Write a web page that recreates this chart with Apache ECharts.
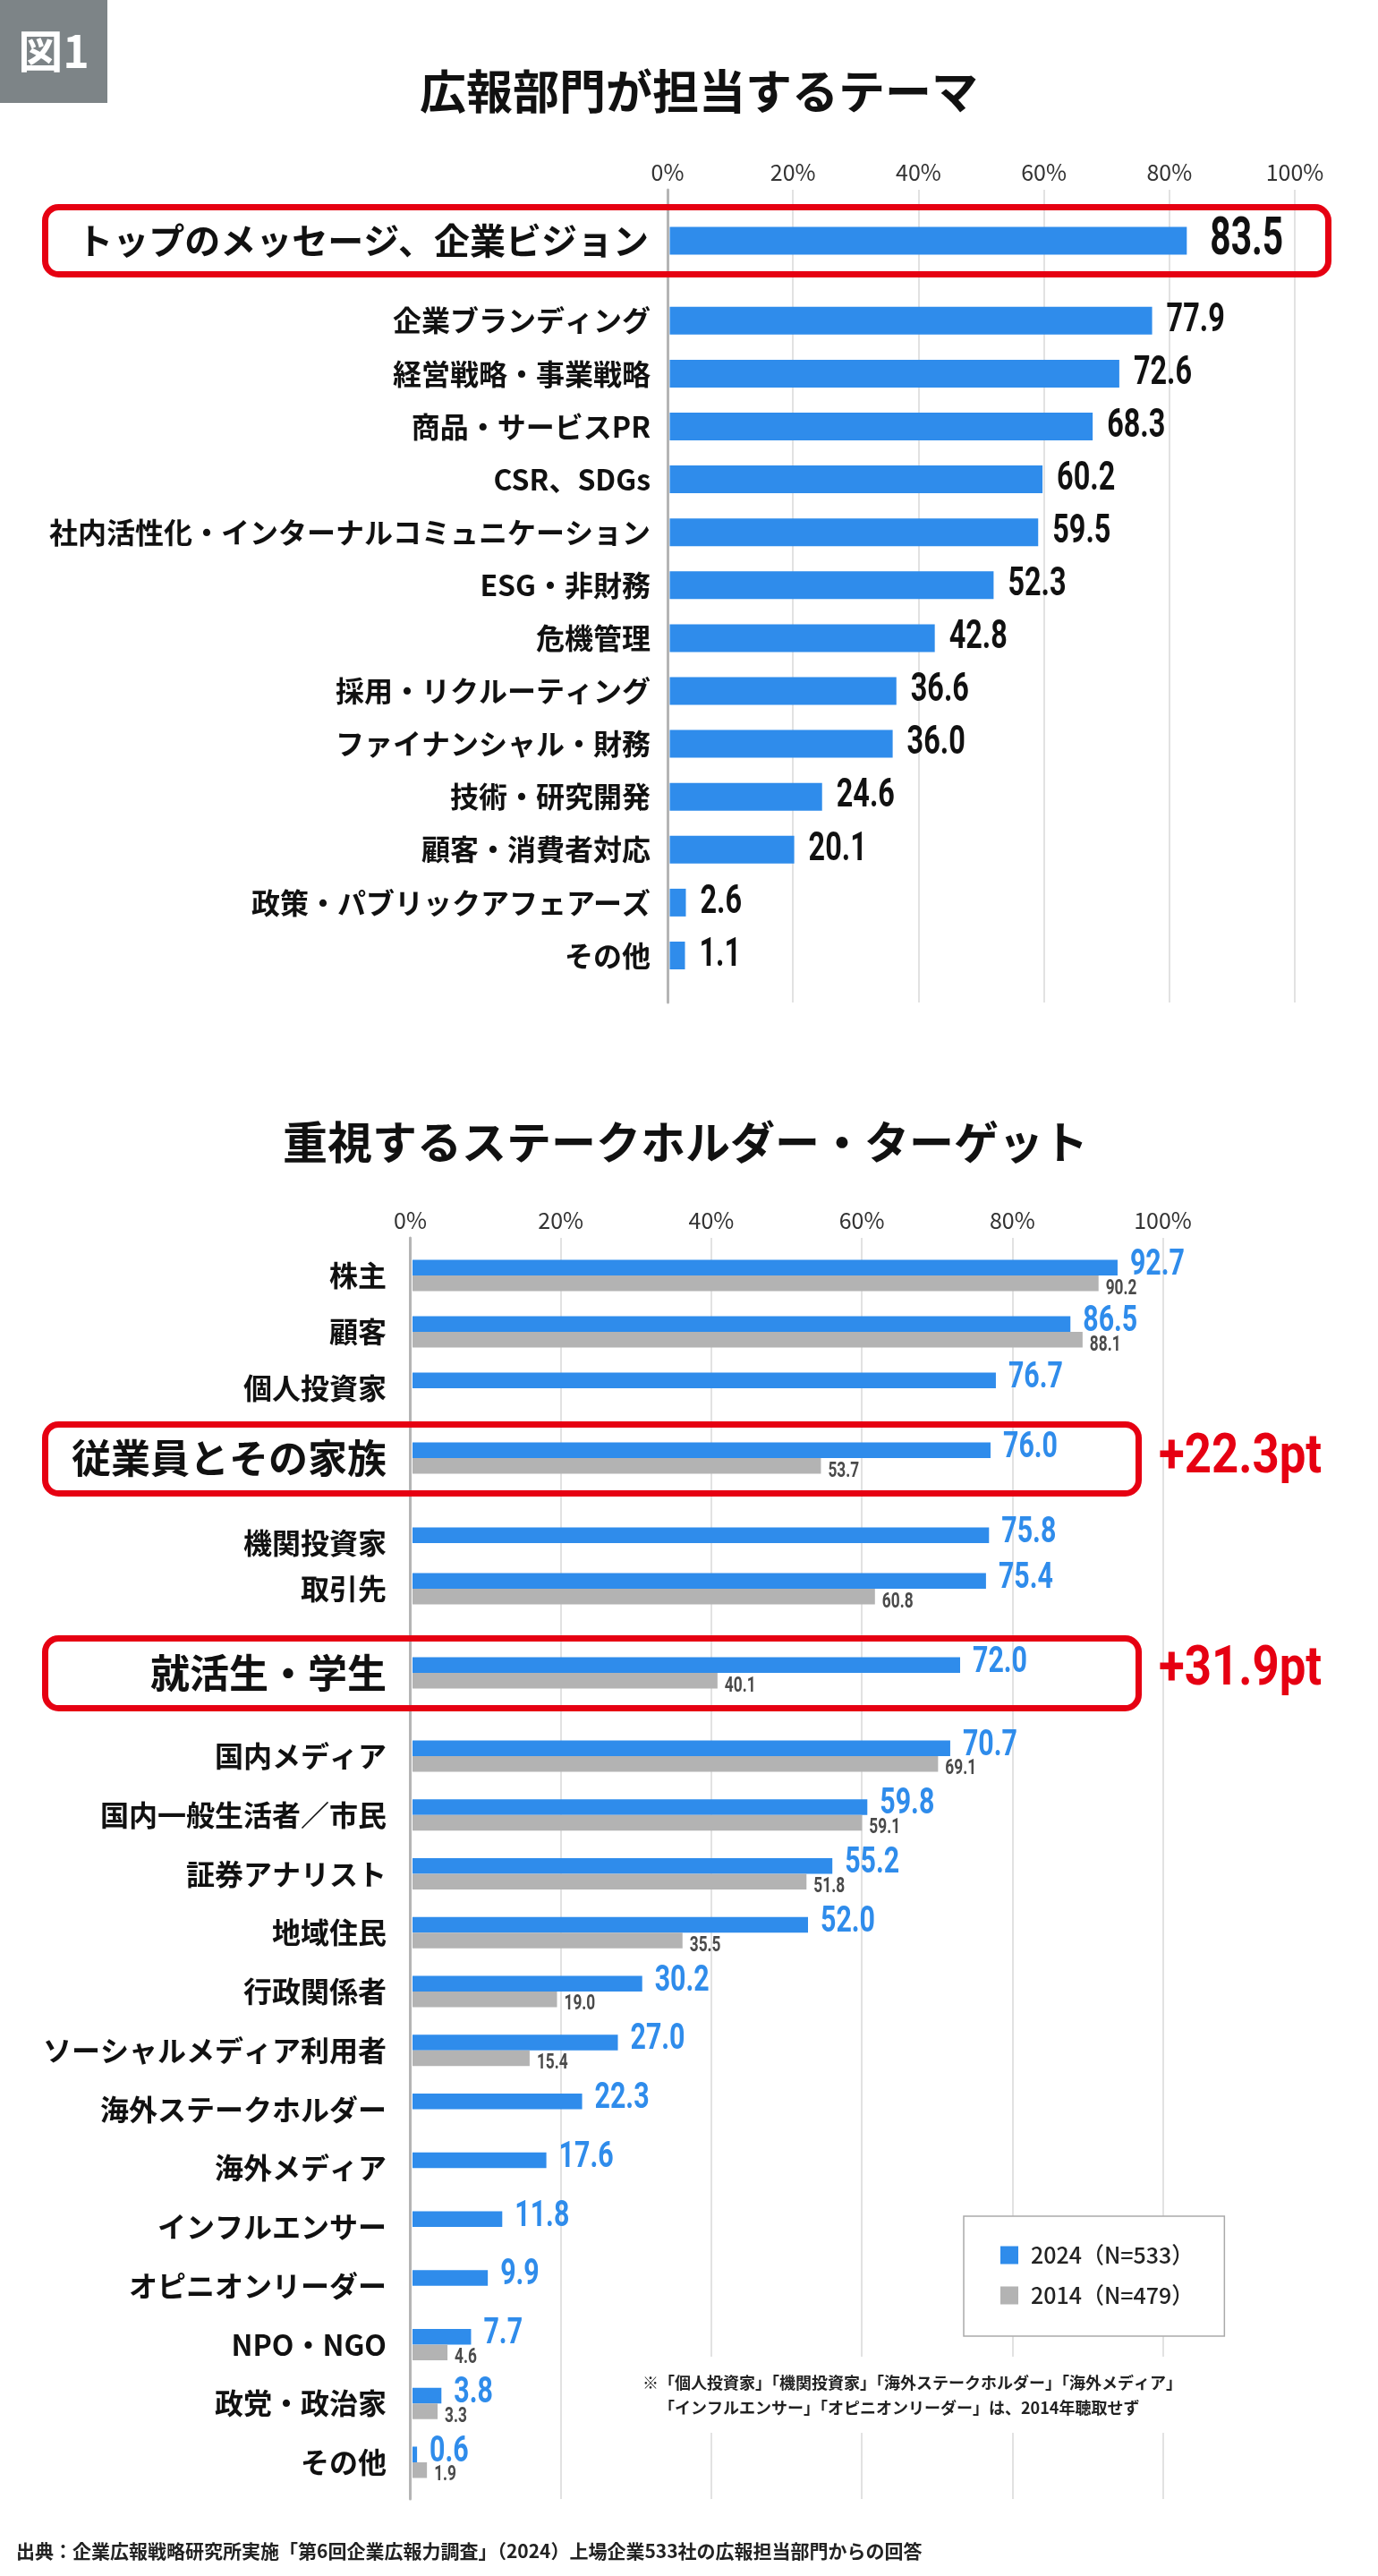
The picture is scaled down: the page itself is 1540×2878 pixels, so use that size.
<!DOCTYPE html>
<html>
<head>
<meta charset="utf-8">
<script src="https://cdn.jsdelivr.net/npm/echarts@6/dist/echarts.min.js"></script>
<style>
html,body{margin:0;padding:0;background:#fff;}
#c{width:1540px;height:2878px;}
</style>
</head>
<body>
<div id="c"></div>
<script>
// ---------- DATA ----------
const themeTitle = '広報部門が担当するテーマ';
const themes = ['トップのメッセージ、企業ビジョン','企業ブランディング','経営戦略・事業戦略','商品・サービスPR','CSR、SDGs','社内活性化・インターナルコミュニケーション','ESG・非財務','危機管理','採用・リクルーティング','ファイナンシャル・財務','技術・研究開発','顧客・消費者対応','政策・パブリックアフェアーズ','その他'];
const themeValues = [83.5,77.9,72.6,68.3,60.2,59.5,52.3,42.8,36.6,36.0,24.6,20.1,2.6,1.1];

const stakeTitle = '重視するステークホルダー・ターゲット';
const stakeholders = ['株主','顧客','個人投資家','従業員とその家族','機関投資家','取引先','就活生・学生','国内メディア','国内一般生活者／市民','証券アナリスト','地域住民','行政関係者','ソーシャルメディア利用者','海外ステークホルダー','海外メディア','インフルエンサー','オピニオンリーダー','NPO・NGO','政党・政治家','その他'];
const values2024 = [92.7,86.5,76.7,76.0,75.8,75.4,72.0,70.7,59.8,55.2,52.0,30.2,27.0,22.3,17.6,11.8,9.9,7.7,3.8,0.6];
const values2014 = [90.2,88.1,null,53.7,null,60.8,40.1,69.1,59.1,51.8,35.5,19.0,15.4,null,null,null,null,4.6,3.3,1.9];
const seriesNames = ['2024（N=533）','2014（N=479）'];

const tickLabels = ['0%','20%','40%','60%','80%','100%'];
const highlighted = ['トップのメッセージ、企業ビジョン','従業員とその家族','就活生・学生'];

const figLabel = '図1';
const noteLine1 = '※「個人投資家」「機関投資家」「海外ステークホルダー」「海外メディア」';
const noteLine2 = '「インフルエンサー」「オピニオンリーダー」は、2014年聴取せず';
const sourceText = '出典：企業広報戦略研究所実施「第6回企業広報力調査」（2024）上場企業533社の広報担当部門からの回答';

// row groups (index ranges)
const themeGroups = [[0,1],[1,14]];
const stakeGroups = [[0,3],[3,4],[4,6],[6,7],[7,20]];

// ---------- STYLE / LAYOUT ----------
const BLUE = '#2f8ceb';
const GREY = '#b3b3b3';
const RED = '#e60012';
const CJK = "'Noto Sans CJK JP','Noto Sans',sans-serif";
const DIGITS = "Roboto,'Noto Sans',sans-serif";

const themeGridRects = [{top:240,height:58},{top:328.75,height:768.3}];
const stakeGridRects = [{top:1393.5,height:189},{top:1597.5,height:63},{top:1698.5,height:102},{top:1837.5,height:63},{top:1929.1,height:854.75}];

const grids = [], xAxes = [], yAxes = [], series = [];

function addBackground(left, width, top, height) {
  const gi = grids.length;
  grids.push({left:left, width:width, top:top, height:height, containLabel:false});
  xAxes.push({gridIndex:gi, type:'value', min:0, max:100, interval:20, position:'top',
    axisLine:{show:false}, axisTick:{show:false},
    splitLine:{show:true, lineStyle:{color:'#d9d9d9', width:1.5}},
    axisLabel:{margin:7, fontSize:25, color:'#333', fontFamily:CJK, formatter:v => tickLabels[Math.round(v/20)]}});
  yAxes.push({gridIndex:gi, type:'value', min:0, max:1,
    axisLabel:{show:false}, axisTick:{show:false}, splitLine:{show:false},
    axisLine:{show:true, lineStyle:{color:'#b5b5b5', width:3}}});
}
// background axes (gridlines + tick labels)
addBackground(746, 701, 212, 908);
addBackground(458.5, 841, 1383, 1409);

function addCategoryGrid(rect, left, width, cats, labelSize, labelMargin) {
  const gi = grids.length;
  grids.push({left:left, width:width, top:rect.top, height:rect.height, containLabel:false});
  xAxes.push({gridIndex:gi, type:'value', min:0, max:100, show:false});
  yAxes.push({gridIndex:gi, type:'category', data:cats, inverse:true,
    axisLine:{show:false}, axisTick:{show:false}, splitLine:{show:false},
    axisLabel:{interval:0, margin:labelMargin, fontSize:labelSize, fontWeight:'bold', color:'#111', fontFamily:CJK}});
  return gi;
}

// condensed value labels, positioned through the grid's own axes
function addLabels(gi, vals, o) {
  const data = [];
  vals.forEach((v, i) => { if (v != null) data.push([v, i]); });
  series.push({type:'custom', xAxisIndex:gi, yAxisIndex:gi, silent:true, z:5, clip:false,
    encode:{x:0, y:1}, data:data,
    renderItem:(params, api) => {
      const v = api.value(0), i = api.value(1);
      const end = api.coord([v, i]);
      const start = api.coord([0, i]);
      const x = Math.max(end[0], start[0] + (o.minLen || 0)) + o.dx;
      return {type:'text', x:x, y:end[1] + o.dy, scaleX:o.sx,
        style:{text:v.toFixed(1), fill:o.color, fontSize:o.size, fontWeight:'bold',
          fontFamily:DIGITS, textAlign:'left', textVerticalAlign:'middle'}};
    }});
}

// ---- top chart ----
themeGroups.forEach((g, k) => {
  const cats = themes.slice(g[0], g[1]);
  const vals = themeValues.slice(g[0], g[1]);
  const hl = highlighted.includes(cats[0]);
  const gi = addCategoryGrid(themeGridRects[k], 748.5, 692, cats, hl ? 40 : 32, hl ? 23.5 : 21.5);
  series.push({type:'bar', name:'themes', xAxisIndex:gi, yAxisIndex:gi,
    data: vals, barWidth:31, barMinHeight:17, itemStyle:{color:BLUE}, silent:true});
  addLabels(gi, vals, hl ? {dx:26, dy:0, sx:0.69, size:59, color:'#111', minLen:17}
                         : {dx:16, dy:0, sx:0.72, size:45, color:'#111', minLen:17});
});

// ---- bottom chart ----
stakeGroups.forEach((g, k) => {
  const cats = stakeholders.slice(g[0], g[1]);
  const v24 = values2024.slice(g[0], g[1]);
  const v14 = values2014.slice(g[0], g[1]);
  const hl = highlighted.includes(cats[0]);
  const gi = addCategoryGrid(stakeGridRects[k], 461, 850, cats, hl ? 44 : 32, 29);
  series.push({type:'bar', name:seriesNames[0], xAxisIndex:gi, yAxisIndex:gi,
    data: v24, barWidth:17.5, barGap:'0%', itemStyle:{color:BLUE}, silent:true});
  series.push({type:'bar', name:seriesNames[1], xAxisIndex:gi, yAxisIndex:gi,
    data: v14, barWidth:17.5, barGap:'0%', itemStyle:{color:GREY}, silent:true});
  addLabels(gi, v24, {dx:14, dy:-11.5, sx:0.74, size:41, color:BLUE});
  addLabels(gi, v14, {dx:8, dy:14.5, sx:0.72, size:24, color:'#4a4a4a'});
});

// differences for highlighted stakeholder rows
function diffText(name) {
  const i = stakeholders.indexOf(name);
  return '+' + (values2024[i] - values2014[i]).toFixed(1) + 'pt';
}

const graphics = [
  {type:'rect', z:10, shape:{x:0, y:0, width:120, height:115}, style:{fill:'#7d8487'}},
  {type:'text', z:11, x:60, y:57, style:{text:figLabel, fill:'#fff', fontSize:50, fontWeight:'bold', fontFamily:CJK, textAlign:'center', textVerticalAlign:'middle'}},
  {type:'text', z:11, x:781, y:102, style:{text:themeTitle, fill:'#111', fontSize:52, fontWeight:'bold', fontFamily:CJK, textAlign:'center', textVerticalAlign:'middle'}},
  {type:'text', z:11, x:766, y:1276, style:{text:stakeTitle, fill:'#111', fontSize:50, fontWeight:'bold', fontFamily:CJK, textAlign:'center', textVerticalAlign:'middle'}},
  {type:'rect', z:10, shape:{x:50.5, y:231.5, width:1434, height:75, r:15}, style:{fill:'none', stroke:RED, lineWidth:7}},
  {type:'rect', z:10, shape:{x:50.5, y:1591.5, width:1222, height:77, r:15}, style:{fill:'none', stroke:RED, lineWidth:7}},
  {type:'rect', z:10, shape:{x:50.5, y:1830.5, width:1222, height:78, r:15}, style:{fill:'none', stroke:RED, lineWidth:7}},
  {type:'text', z:11, x:1295, y:1629, scaleX:0.85, style:{text:diffText('従業員とその家族'), fill:RED, fontSize:62, fontWeight:'bold', fontFamily:DIGITS, textAlign:'left', textVerticalAlign:'middle'}},
  {type:'text', z:11, x:1295, y:1866, scaleX:0.85, style:{text:diffText('就活生・学生'), fill:RED, fontSize:62, fontWeight:'bold', fontFamily:DIGITS, textAlign:'left', textVerticalAlign:'middle'}},
  {type:'rect', z:5, shape:{x:700, y:2633, width:665, height:85}, style:{fill:'#fff'}},
  {type:'text', z:11, x:718, y:2662, style:{text:noteLine1, fill:'#222', fontSize:18, fontWeight:'bold', fontFamily:CJK, textAlign:'left', textVerticalAlign:'middle'}},
  {type:'text', z:11, x:736, y:2690, style:{text:noteLine2, fill:'#222', fontSize:18, fontWeight:'bold', fontFamily:CJK, textAlign:'left', textVerticalAlign:'middle'}},
  {type:'text', z:11, x:18, y:2850, style:{text:sourceText, fill:'#222', fontSize:21, fontWeight:'bold', fontFamily:CJK, textAlign:'left', textVerticalAlign:'middle'}}
];

const chart = echarts.init(document.getElementById('c'), null, {renderer:'canvas'});
chart.setOption({
  backgroundColor:'#fff',
  animation:false,
  textStyle:{fontFamily:CJK},
  grid: grids,
  xAxis: xAxes,
  yAxis: yAxes,
  legend: {data:seriesNames, orient:'vertical', left:1077, top:2476,
    padding:[31,34,33,41], itemWidth:20, itemHeight:20, itemGap:20, icon:'rect',
    borderColor:'#aaa', borderWidth:1.5, backgroundColor:'#fff', selectedMode:false,
    textStyle:{fontSize:25, color:'#222', fontWeight:500, fontFamily:CJK, padding:[0,0,0,9]}},
  series: series,
  graphic: graphics
});
</script>
</body>
</html>
